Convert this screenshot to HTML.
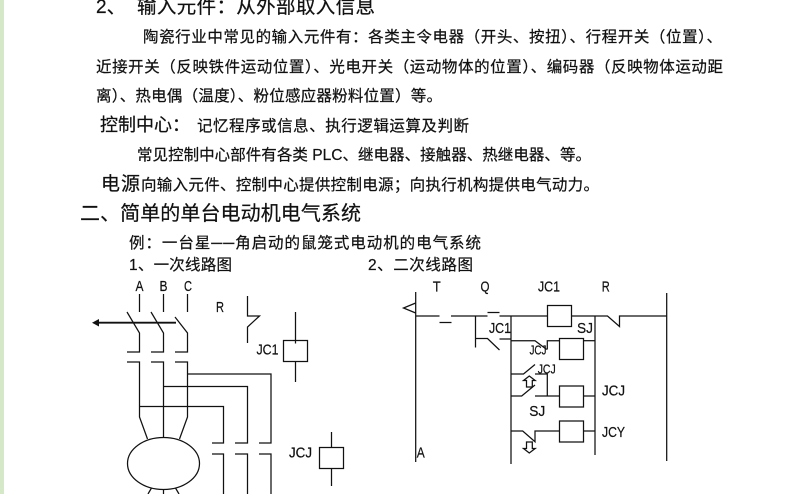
<!DOCTYPE html>
<html><head><meta charset="utf-8"><style>
html,body{margin:0;padding:0;background:#fff}
svg{display:block;filter:blur(.3px)}
text{font-family:"Liberation Sans","Noto Sans CJK SC",sans-serif;fill:#111;stroke:#111;stroke-width:.22px}
.b{font-size:15.5px}
.n{font-size:15px;text-anchor:middle}
.t{font-size:12.5px;text-anchor:middle}
</style></head><body>
<svg width="797" height="494" viewBox="0 0 797 494" xmlns="http://www.w3.org/2000/svg">
<rect width="797" height="494" fill="#fff"/>
<rect width="4" height="494" fill="#d5e8c8"/>
<text x="96" y="13" font-size="19">2、</text>
<text x="137" y="13" font-size="19.5" textLength="238">输入元件：从外部取入信息</text>
<text class="b" x="143" y="42" textLength="579">陶瓷行业中常见的输入元件有：各类主令电器（开头、按扭）、行程开关（位置）、</text>
<text class="b" x="96" y="72" textLength="627">近接开关（反映铁件运动位置）、光电开关（运动物体的位置）、编码器（反映物体运动距</text>
<text class="b" x="96" y="101" textLength="346">离）、热电偶（温度）、粉位感应器粉料位置）等。</text>
<text x="100" y="131" font-size="18" textLength="90">控制中心：</text>
<text class="b" x="197" y="131" textLength="272">记忆程序或信息、执行逻辑运算及判断</text>
<text class="b" x="137" y="160" textLength="454">常见控制中心部件有各类 PLC、继电器、接触器、热继电器、等。</text>
<text x="101" y="190" font-size="19" textLength="39">电源</text>
<text class="b" x="141" y="190" textLength="458">向输入元件、控制中心提供控制电源；向执行机构提供电气动力。</text>
<text x="80" y="220" font-size="20" textLength="281">二、简单的单台电动机电气系统</text>
<text class="b" x="129" y="248" textLength="352">例：一台星──角启动的鼠笼式电动机的电气系统</text>
<text class="b" x="129" y="270" textLength="103">1、一次线路图</text>
<text class="b" x="368" y="270" textLength="105">2、二次线路图</text>

<g fill="none" stroke="#111" stroke-width="1.25">
<path d="M139.5 294V312M163.5 294V312M187.5 294V312"/>
<path d="M127 312L139.5 333V352H127M151 312L163.5 333V352H151M175 317L187.5 333V352H175"/>
<path d="M127 362H139.5V417L147.5 439M151 362H163.5V437M175 362H187.5V417L179.5 439"/>
<path d="M187.5 374H271V443H259M163.5 386.5H247.5V443H235M139.5 406.5H223.5V443H212"/>
<path d="M212 454H223.5V494M235 454H247.5V494M259 454H271V494"/>
<ellipse cx="163.5" cy="463.5" rx="36" ry="26"/>
<path d="M163.5 489V494M151.5 488L148 494M175.5 488L179 494"/>
<path d="M247.5 296V316H259.5L247.5 327V343"/>
<rect x="283.5" y="340.5" width="24" height="21"/>
<path d="M295.5 312V343.5M295.5 361.5V382"/>
<rect x="319.5" y="447.5" width="24" height="21"/>
<path d="M331.5 432V447.5M331.5 468.5V486"/>
<path d="M98 322.7H176" stroke-width="1.8"/>

<path d="M415.7 292V462M415.7 303L403.5 308L415.7 313"/>
<path d="M415.7 316H439.5M439.5 322.5H451.5M451 316H487.5M487.5 312.5H499.5M499.5 316H547"/>
<rect x="547.5" y="305.5" width="24" height="21"/>
<path d="M571.5 316H607.5L619.5 326.5V316H666.7M666.7 293V461"/>
<path d="M475.5 316V347.5M475.5 338.5H487.5L499.5 350M499.5 339H511"/>
<path d="M511 316V464M595 316V455"/>
<path d="M511 340.7H535L546.7 349.5M547.3 349.5V340.7H559.5"/>
<rect x="559.5" y="338.5" width="24" height="21"/>
<path d="M583.5 340.7H595"/>
<path d="M511 374H523.5L535 364.5M535 374H547.3V396"/>
<path d="M511 396H521.7L535 385M535 396H559.5"/>
<rect x="559.5" y="386" width="24" height="21"/>
<path d="M583.5 396H595"/>
<path d="M511 431H522.7L535 441.7V431H559.5"/>
<rect x="559.5" y="421" width="24" height="21"/>
<path d="M583.5 431H595"/>
<path d="M529.3 376L523.5 380.5H526.5V387H532.3V380.5H535.2Z"/>
<path d="M529.3 453L523.5 448.5H526.5V442H532.3V448.5H535.2Z"/>
</g>
<path d="M92 322.7L99 319V326.5Z" fill="#111"/>

<text class="n" x="139.5" y="291" textLength="8" lengthAdjust="spacingAndGlyphs">A</text>
<text class="n" x="163.5" y="291" textLength="8" lengthAdjust="spacingAndGlyphs">B</text>
<text class="n" x="188" y="291" textLength="8" lengthAdjust="spacingAndGlyphs">C</text>
<text class="n" x="220" y="312" textLength="8" lengthAdjust="spacingAndGlyphs">R</text>
<text class="n" x="267.5" y="354.5" textLength="22" lengthAdjust="spacingAndGlyphs">JC1</text>
<text class="n" x="300.5" y="457.5" textLength="23" lengthAdjust="spacingAndGlyphs">JCJ</text>
<text class="n" x="436.7" y="291.5" textLength="8" lengthAdjust="spacingAndGlyphs">T</text>
<text class="n" x="485" y="291.5" textLength="9" lengthAdjust="spacingAndGlyphs">Q</text>
<text class="n" x="549" y="291.5" textLength="22" lengthAdjust="spacingAndGlyphs">JC1</text>
<text class="n" x="605.7" y="291.5" textLength="8" lengthAdjust="spacingAndGlyphs">R</text>
<text class="n" x="500" y="333" textLength="22" lengthAdjust="spacingAndGlyphs">JC1</text>
<text class="n" x="585" y="333" textLength="16" lengthAdjust="spacingAndGlyphs">SJ</text>
<text class="t" x="538" y="354.5" textLength="17" lengthAdjust="spacingAndGlyphs">JCJ</text>
<text class="t" x="546.7" y="373.5" textLength="18" lengthAdjust="spacingAndGlyphs">JCJ</text>
<text class="n" x="537.3" y="416" textLength="16" lengthAdjust="spacingAndGlyphs">SJ</text>
<text class="n" x="613.5" y="395.5" textLength="23" lengthAdjust="spacingAndGlyphs">JCJ</text>
<text class="n" x="613.5" y="437" textLength="23" lengthAdjust="spacingAndGlyphs">JCY</text>
<text class="n" x="420.7" y="457.5" textLength="8" lengthAdjust="spacingAndGlyphs">A</text>
</svg>
</body></html>
